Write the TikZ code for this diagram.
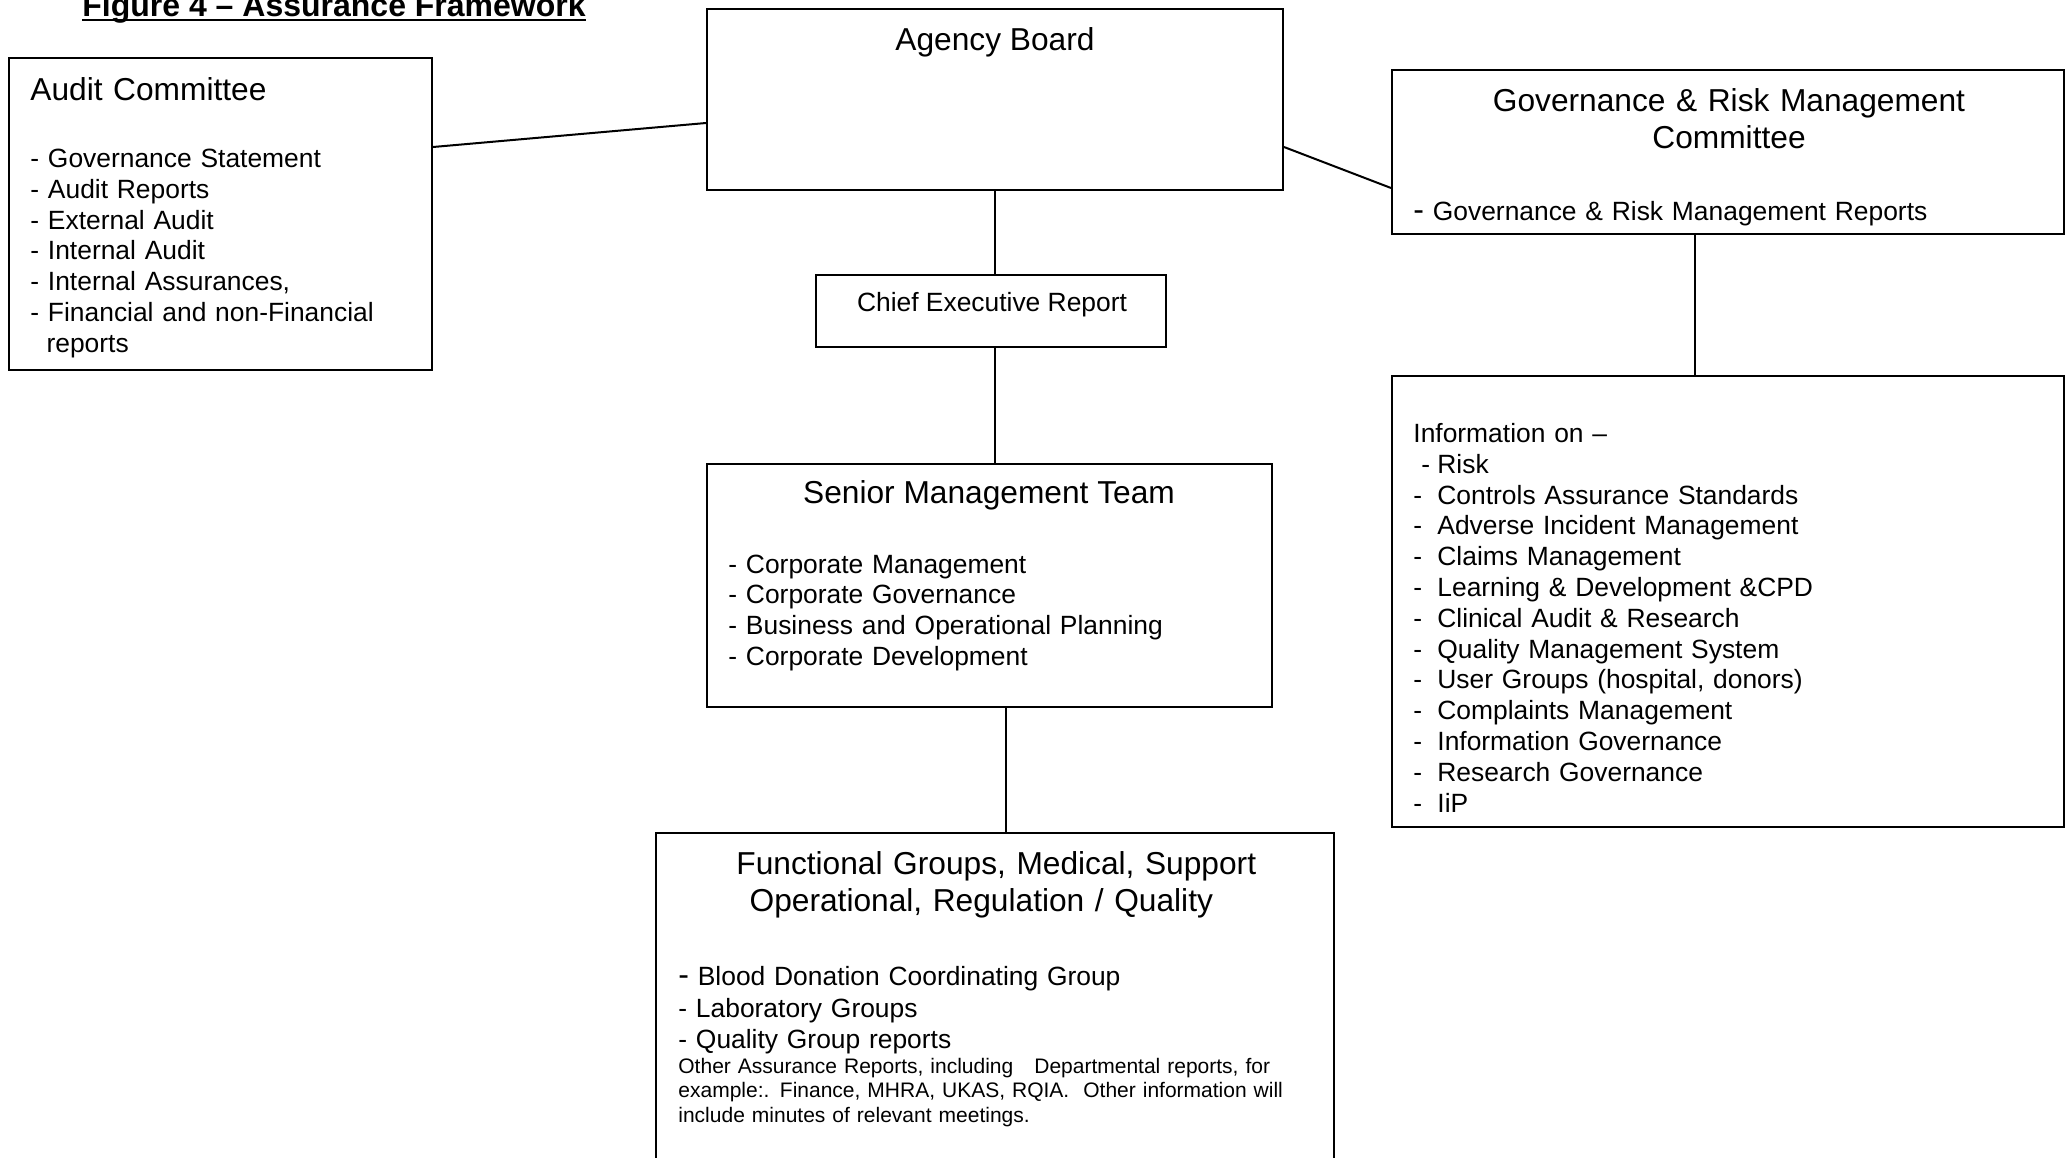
\documentclass[tikz,border=0pt]{standalone}
\usepackage{fontspec}
\setmainfont{Liberation Sans}
\usetikzlibrary{fit}
\begin{document}
\begin{tikzpicture}[x=0.5pt,y=-0.5pt,
  box/.style={draw, line width=1pt, inner sep=0pt},
  link/.style={line width=1pt},
  big/.style={font=\fontsize{15.85}{18.5}\selectfont},
  mid/.style={font=\fontsize{13.2}{15.4}\selectfont},
  small/.style={font=\fontsize{10.5}{12.2}\selectfont},
  txt/.style={inner sep=0pt, anchor=base west, align=left, text width=330pt},
  ctxt/.style={inner sep=0pt, anchor=base}]
\useasboundingbox (0,0) rectangle (2071,1157);
% title
\node[inner sep=0pt, anchor=base west, font=\bfseries\fontsize{16}{18}\selectfont] (title) at (82,16) {Figure 4 – Assurance Framework};
\draw[line width=1pt] ([yshift=-2pt]title.base west) -- ([yshift=-2pt]title.base east);
% boxes
\node[box, fit={(9,58)(432,370)}] (audit) {};
\node[box, fit={(707,9)(1283,190)}] (board) {};
\node[box, fit={(1392,70)(2064,234)}] (gov) {};
\node[box, fit={(816,275)(1166,347)}] (cer) {};
\node[box, fit={(707,464)(1272,707)}] (smt) {};
\node[box, fit={(1392,376)(2064,827)}] (info) {};
\node[box, fit={(656,833)(1334,1185)}] (func) {};
% audit text
\node[txt, big] (auditH) at (30,100) {Audit Committee};
\node[txt, mid] (auditL) at (30,167.5) {- Governance Statement\\- Audit Reports\\- External Audit\\- Internal Audit\\- Internal Assurances,\\- Financial and non-Financial\\\hspace*{8.1pt}reports};
% board
\node[ctxt, big] (boardH) at (995,50) {Agency Board};
% gov
\node[inner sep=0pt, anchor=base, text width=330pt, align=center, big] (govH) at (1729,111.5) {Governance \& Risk Management\\Committee};
\node[txt, mid] (govL) at (1413,220.5) {{\fontsize{16}{16}\selectfont-} Governance \& Risk Management Reports};
% cer
\node[ctxt, mid] (cerT) at (992,311.5) {Chief Executive Report};
% smt
\node[ctxt, big] (smtH) at (989,503.5) {Senior Management Team};
\node[txt, mid] (smtL) at (728,573) {- Corporate Management\\- Corporate Governance\\- Business and Operational Planning\\- Corporate Development};
% info
\node[txt, mid] (infoL) at (1413,442.5) {Information on –\\
\hspace*{4pt}\makebox[8pt][l]{-}Risk\\
\makebox[12pt][l]{-}Controls Assurance Standards\\
\makebox[12pt][l]{-}Adverse Incident Management\\
\makebox[12pt][l]{-}Claims Management\\
\makebox[12pt][l]{-}Learning \& Development \&CPD\\
\makebox[12pt][l]{-}Clinical Audit \& Research\\
\makebox[12pt][l]{-}Quality Management System\\
\makebox[12pt][l]{-}User Groups (hospital, donors)\\
\makebox[12pt][l]{-}Complaints Management\\
\makebox[12pt][l]{-}Information Governance\\
\makebox[12pt][l]{-}Research Governance\\
\makebox[12pt][l]{-}IiP};
% functional
\node[txt, font=\fontsize{15.85}{18.5}\selectfont] (funcH) at (736,874.5) {Functional Groups, Medical, Support\\\hspace*{6.6pt}Operational, Regulation / Quality};
\node[txt, font=\fontsize{13.2}{15.85}\selectfont] (funcL) at (678,985.5) {{\fontsize{16}{16}\selectfont-} Blood Donation Coordinating Group\\- Laboratory Groups\\- Quality Group reports};
\node[txt, small] (funcS) at (678,1073.5) {Other Assurance Reports, including \ \ Departmental reports, for\\example:. Finance, MHRA, UKAS, RQIA. \ Other information will\\include minutes of relevant meetings.};
% connectors
\draw[link] ([yshift=-45pt]audit.north east) -- ([yshift=-57.5pt]board.north west);
\draw[link] ([yshift=-69.5pt]board.north east) -- ([yshift=-59.5pt]gov.north west);
\draw[link] (board.south) -- (board.south |- cer.north);
\draw[link] (cer.south -| board.south) -- (smt.north -| board.south);
\draw[link] ([xshift=8pt]smt.south) -- ([xshift=8pt]smt.south |- func.north);
\draw[link] ([xshift=-16.75pt]gov.south) -- ([xshift=-16.75pt]gov.south |- info.north);
\end{tikzpicture}
\end{document}
